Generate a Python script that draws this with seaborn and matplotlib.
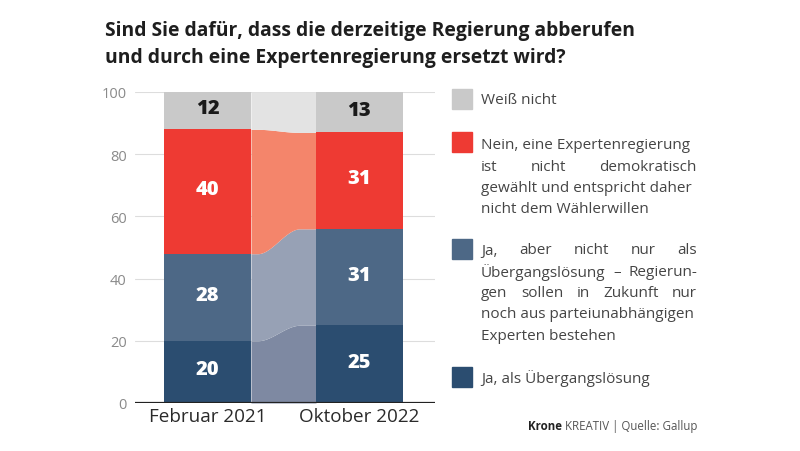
import numpy as np
import pandas as pd
import matplotlib
matplotlib.use("Agg")
import matplotlib.pyplot as plt
import seaborn as sns

# data
periods = ["Februar 2021", "Oktober 2022"]
categories = ["Ja, als Übergangslösung",
              "Ja, aber nicht nur als Übergangslösung",
              "Nein, eine Expertenregierung ist nicht demokratisch",
              "Weiß nicht"]
ja_uebergang = [20, 25]
ja_nicht_nur = [28, 31]
nein = [40, 31]
weiss_nicht = [12, 13]

bar_colors = ["#2b4d70", "#4d6886", "#ee3a33", "#c9c9c9"]
flow_colors = ["#7e89a2", "#97a1b5", "#f4856b", "#e3e3e3"]
label_colors = ["white", "white", "white", "#1a1a1a"]

legend_paras = [
    [["Weiß nicht"]],
    [["Nein, eine Expertenregierung"], ["ist", "nicht", "demokratisch"],
     ["gewählt und entspricht daher"], ["nicht dem Wählerwillen"]],
    [["Ja,", "aber", "nicht", "nur", "als"], ["Übergangslösung", "–", "Regierun-"],
     ["gen", "sollen", "in", "Zukunft", "nur"], ["noch aus parteiunabhängigen"],
     ["Experten bestehen"]],
    [["Ja, als Übergangslösung"]],
]

series = [ja_uebergang, ja_nicht_nur, nein, weiss_nicht]
df = pd.DataFrame({"period": periods})
for name, vals in zip(categories, series):
    df[name] = vals
cum = df[categories].cumsum(axis=1)

sns.set_style("white")
plt.rcParams["font.family"] = ["Open Sans", "DejaVu Sans"]

W, H = 800, 452
fig = plt.figure(figsize=(W / 100, H / 100), dpi=100)
ax = fig.add_axes([135 / W, 1 - 404 / H, 300 / W, 311 / H])

bw = 0.572
# stacked bars: draw cumulative totals from top to bottom
for i in range(len(categories) - 1, -1, -1):
    sns.barplot(x=df["period"], y=cum[categories[i]], color=bar_colors[i],
                width=bw, saturation=1, ax=ax, zorder=3, linewidth=0)

# connecting flow bands between the bars
xs = np.linspace(bw / 2, 1 - bw / 2, 100)
t = (xs - xs[0]) / (xs[-1] - xs[0])
s = np.clip((t - 0.1) / 0.65, 0, 1)
s = s * s * (3 - 2 * s)
lower = np.zeros_like(xs)
for i, name in enumerate(categories):
    a, b = cum[name].values
    upper = a + (b - a) * s
    ax.fill_between(xs, lower, upper, color=flow_colors[i], linewidth=0, zorder=2)
    lower = upper

# value labels
for j in range(len(periods)):
    bottom = 0
    for i, name in enumerate(categories):
        v = df[name].iloc[j]
        ax.text(j, bottom + v / 2 + 0.8, f"{v}", ha="center", va="center",
                fontsize=14.5, fontweight="heavy", color=label_colors[i],
                zorder=5)
        bottom += v

ax.set_xlim(-0.477, 1.497)
ax.set_ylim(0, 100)
ax.set_yticks([0, 20, 40, 60, 80, 100])
for yv in [20, 40, 60, 80, 100]:
    ax.axhline(yv, color="#dddddd", linewidth=0.8, zorder=1)
ax.axhline(0, color="#222222", linewidth=1.6, zorder=6)
ax.set_xlabel("")
ax.set_ylabel("")
ax.tick_params(axis="y", length=0, labelsize=10.5, labelcolor="#8a8a8a", pad=6)
ax.tick_params(axis="x", length=0, labelsize=13.6, labelcolor="#2a2a2a", pad=3)
for sp in ax.spines.values():
    sp.set_visible(False)
ax.patch.set_alpha(0)

# title
fig.text(105 / W, 1 - 31 / H, "Sind Sie dafür, dass die derzeitige Regierung abberufen",
         fontsize=13.9, fontweight="bold", color="#1e1e1e", va="center")
fig.text(105 / W, 1 - 58 / H, "und durch eine Expertenregierung ersetzt wird?",
         fontsize=13.9, fontweight="bold", color="#1e1e1e", va="center")

# legend
fig.canvas.draw()
renderer = fig.canvas.get_renderer()
x0, x1 = 481, 697
square_tops = [90, 133, 240, 368]
line_starts = [101, 146, 251, 379]
lh = 21.3
leg_fs = 11.0
leg_colors = [bar_colors[3], bar_colors[2], bar_colors[1], bar_colors[0]]
for k, para in enumerate(legend_paras):
    fig.patches.append(plt.Rectangle((452 / W, 1 - (square_tops[k] + 20) / H), 20 / W, 20 / H,
                                     transform=fig.transFigure, color=leg_colors[k], figure=fig))
    for li, words in enumerate(para):
        y = 1 - (line_starts[k] + li * lh) / H
        if len(words) == 1:
            fig.text(x0 / W, y, words[0], fontsize=leg_fs, color="#454545", va="center")
            continue
        txts = [fig.text(0, y, w_, fontsize=leg_fs, color="#454545", va="center") for w_ in words]
        widths = [tt.get_window_extent(renderer).width for tt in txts]
        gap = (x1 - x0 - sum(widths)) / (len(words) - 1)
        xp = x0
        for tt, wd in zip(txts, widths):
            tt.set_x(xp / W)
            xp += wd + gap

# source
src = fig.text(697 / W, 1 - 427 / H, "KREATIV | Quelle: Gallup", fontsize=8.3,
               color="#555555", ha="right", va="center")
sw = src.get_window_extent(renderer).width
fig.text((697 - sw - 3) / W, 1 - 427 / H, "Krone", fontsize=8.3, fontweight="bold",
         color="#222222", ha="right", va="center")

fig.savefig("out.png", dpi=100)
